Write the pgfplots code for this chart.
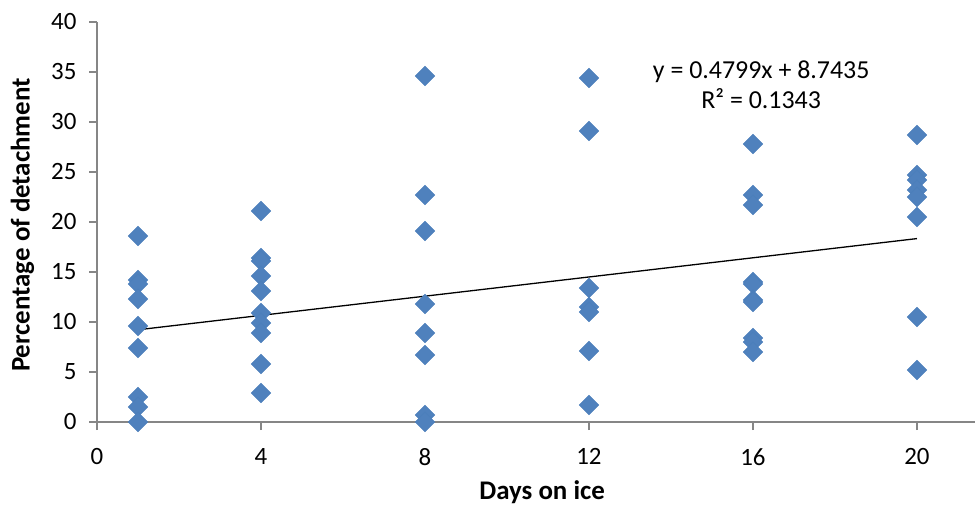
\documentclass[border=0pt]{standalone}
\usepackage{fontspec}
\setmainfont{Carlito}
\usepackage{pgfplots}
\pgfplotsset{compat=1.18}
\definecolor{mk}{HTML}{4F81BD}
\definecolor{mkd}{HTML}{4A7EBB}
\definecolor{axc}{HTML}{868686}
\begin{document}
\begin{tikzpicture}
\begin{axis}[
  scale only axis, width=878bp, height=400bp,
  xmin=0, xmax=21.415, ymin=0, ymax=40,
  axis lines=left,
  axis line style={-, draw=axc, line width=1.3bp},
  xtick={0,4,8,12,16,20}, ytick={0,5,...,40},
  tick align=outside, major tick length=8bp,
  tick style={draw=axc, line width=1.3bp},
  /pgf/number format/assume math mode=true,
  tick label style={font=\fontsize{25}{30}\selectfont},
  xticklabel style={yshift=-15bp},
  yticklabel style={xshift=-9bp},
  xlabel={Days on ice}, ylabel={Percentage of detachment},
  label style={font=\bfseries\fontsize{27}{31}\selectfont},
  xlabel style={at={(axis description cs:0.507,-0.193)}, anchor=base},
  ylabel style={at={(axis description cs:-0.0849,0.4925)}, anchor=center, rotate=0},
  clip=false,
]
\coordinate (o) at (rel axis cs:0,0);
\addplot[only marks, mark=square*, mark size=7bp, mark options={rotate=45, fill=mk, draw=mkd}] table {
x y
1 18.6
1 14.2
1 13.8
1 12.3
1 9.6
1 7.4
1 2.5
1 1.5
1 0.0
4 21.1
4 16.4
4 16.1
4 14.6
4 13.1
4 10.9
4 9.9
4 8.9
4 5.8
4 2.9
8 34.6
8 22.7
8 19.1
8 11.8
8 8.9
8 6.7
8 0.7
8 0.0
12 34.4
12 29.1
12 13.4
12 11.5
12 11.0
12 7.1
12 1.7
16 27.8
16 22.7
16 21.7
16 14.0
16 13.8
16 12.2
16 12.0
16 8.4
16 8.0
16 7.0
20 28.7
20 24.7
20 24.2
20 23.2
20 22.5
20 20.5
20 10.5
20 5.2
};
\addplot[black, line width=1.3bp] coordinates {(1,9.2234) (20,18.3415)};
\node[align=center, font=\fontsize{26}{30}\selectfont] at (axis cs:16.2,33.7) {y = 0.4799x + 8.7435\\R² = 0.1343};
\end{axis}
\pgfresetboundingbox
\path (o) ++(-97bp,-87bp) rectangle ++(976bp,509bp);
\end{tikzpicture}
\end{document}
